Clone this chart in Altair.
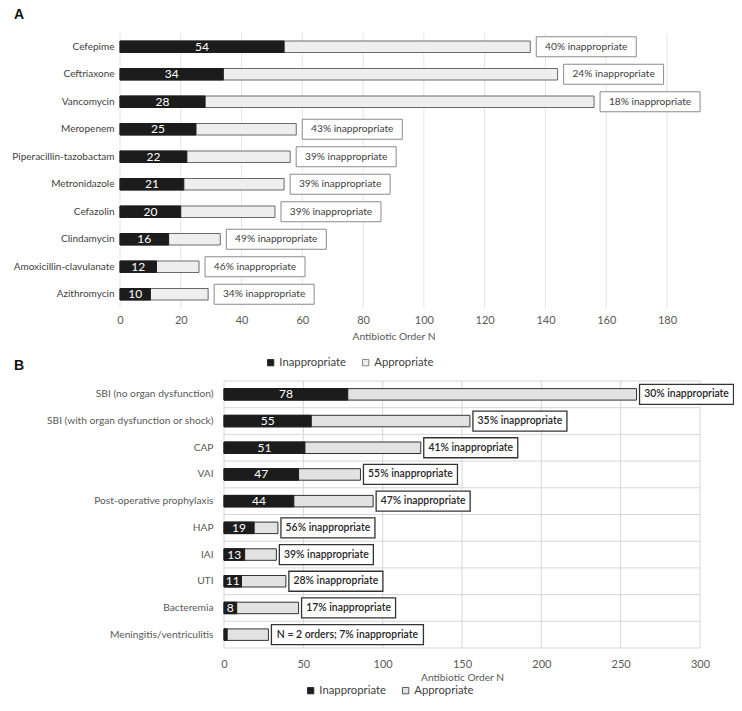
import altair as alt
import pandas as pd

FONT = "Lato"

# ---------------- Panel A data ----------------
cats_a = ["Cefepime", "Ceftriaxone", "Vancomycin", "Meropenem", "Piperacillin-tazobactam",
          "Metronidazole", "Cefazolin", "Clindamycin", "Amoxicillin-clavulanate", "Azithromycin"]
inapp_a = [54, 34, 28, 25, 22, 21, 20, 16, 12, 10]
app_a = [81, 110, 128, 33, 34, 33, 31, 17, 14, 19]
notes_a = ["40% inappropriate", "24% inappropriate", "18% inappropriate", "43% inappropriate",
           "39% inappropriate", "39% inappropriate", "39% inappropriate", "49% inappropriate",
           "46% inappropriate", "34% inappropriate"]
ticks_a = [0, 20, 40, 60, 80, 100, 120, 140, 160, 180]

# ---------------- Panel B data ----------------
cats_b = ["SBI (no organ dysfunction)", "SBI (with organ dysfunction or shock)", "CAP", "VAI",
          "Post-operative prophylaxis", "HAP", "IAI", "UTI", "Bacteremia", "Meningitis/ventriculitis"]
inapp_b = [78, 55, 51, 47, 44, 19, 13, 11, 8, 2]
app_b = [182, 100, 73, 39, 50, 15, 20, 28, 39, 26]
notes_b = ["30% inappropriate", "35% inappropriate", "41% inappropriate", "55% inappropriate",
           "47% inappropriate", "56% inappropriate", "39% inappropriate", "28% inappropriate",
           "17% inappropriate", "N = 2 orders; 7% inappropriate"]
ticks_b = [0, 50, 100, 150, 200, 250, 300]

status_domain = ["Inappropriate", "Appropriate"]
axis_title = "Antibiotic Order N"

W, H = 726, 690  # whole drawing (one canvas, both panels placed through their scale ranges)


def wide_df(cats, inapp, app, notes):
    return pd.DataFrame({
        "cat": cats,
        "inapp": inapp,
        "total": [i + a for i, a in zip(inapp, app)],
        "note": notes,
    })


def long_df(cats, inapp, app):
    rows = [{"cat": c, "status": "Appropriate", "value": i + a} for c, i, a in zip(cats, inapp, app)]
    rows += [{"cat": c, "status": "Inappropriate", "value": i} for c, i in zip(cats, inapp)]
    return pd.DataFrame(rows)


def panel(cats, inapp, app, notes, ticks, x_px, y_px, grid_color, ygrid,
          fill_gray, stroke_gray, box_stroke, box_sw, box_text_color, box_weight, box_fs,
          ylab_color, ylab_fs, ylab_pad, label_pad_x, title_pad_x, legend_x, legend_y,
          gap, box_w, long_w, letters):
    wdf = wide_df(cats, inapp, app, notes)
    ldf = long_df(cats, inapp, app)
    tdf = pd.DataFrame({"t": ticks})
    xscale = alt.Scale(domain=[ticks[0], ticks[-1]], range=x_px, nice=False, zero=True)
    yscale = alt.Scale(domain=cats, range=y_px, paddingInner=0, paddingOuter=0)

    xaxis = alt.Axis(orient="bottom", offset=y_px[1] - H, values=ticks, grid=False,
                     domain=False, ticks=False, labelPadding=label_pad_x, labelFlush=False,
                     labelOverlap=False,
                     labelFont=FONT, labelFontSize=11, labelColor="#595959",
                     title=axis_title, titleFont=FONT, titleFontSize=10.2,
                     titleFontWeight="normal", titleColor="#595959",
                     titlePadding=title_pad_x)
    yaxis = alt.Axis(orient="left", offset=-x_px[0], title=None, domain=False, ticks=False,
                     grid=False, labelPadding=ylab_pad, labelFont=FONT,
                     labelFontSize=ylab_fs, labelColor=ylab_color, labelLimit=400)

    layers = []
    # main bars (carry the axes and the legend)
    layers.append(alt.Chart(ldf).mark_bar(size=11.5, strokeWidth=1).encode(
        x=alt.X("value:Q", stack=None, scale=xscale, axis=xaxis),
        y=alt.Y("cat:N", scale=yscale, axis=yaxis),
        color=alt.Color("status:N",
                        scale=alt.Scale(domain=status_domain, range=["#1c1c1c", fill_gray]),
                        legend=alt.Legend(orient="none", legendX=legend_x, legendY=legend_y,
                                          direction="horizontal", title=None,
                                          symbolType="square", symbolSize=40,
                                          symbolStrokeColor="#555555", symbolStrokeWidth=0.8,
                                          labelFont=FONT, labelFontSize=11.3,
                                          labelColor="#404040", labelOffset=3,
                                          columnPadding=14, padding=0)),
        stroke=alt.Stroke("status:N",
                          scale=alt.Scale(domain=status_domain, range=["#1c1c1c", stroke_gray]),
                          legend=None),
    ))

    # grid lines at the tick values and (panel B) at the category band edges
    grid = [alt.Chart(tdf).mark_rule(color=grid_color, strokeWidth=1).encode(
        x=alt.X("t:Q", scale=xscale),
        y=alt.value(y_px[0]), y2=alt.value(y_px[1]),
    )]
    if ygrid:
        grid.append(alt.Chart(pd.DataFrame({"cat": cats})).mark_rule(
            color=grid_color, strokeWidth=1).encode(
            y=alt.Y("cat:N", scale=yscale, bandPosition=0),
            x=alt.value(x_px[0]), x2=alt.value(x_px[1]),
        ))
        grid.append(alt.Chart(pd.DataFrame({"a": [0]})).mark_rule(
            color=grid_color, strokeWidth=1).encode(
            y=alt.value(y_px[1]), x=alt.value(x_px[0]), x2=alt.value(x_px[1]),
        ))
    layers = grid + layers

    layers.append(alt.Chart(wdf).transform_filter("length(datum.note) < 20").mark_bar(
        size=20, fill="white", stroke=box_stroke, strokeWidth=box_sw,
        xOffset=gap, x2Offset=gap + box_w,
    ).encode(x=alt.X("total:Q", scale=xscale), x2="total:Q",
             y=alt.Y("cat:N", scale=yscale)))

    layers.append(alt.Chart(wdf).transform_filter("length(datum.note) >= 20").mark_bar(
        size=20, fill="white", stroke=box_stroke, strokeWidth=box_sw,
        xOffset=gap, x2Offset=gap + long_w,
    ).encode(x=alt.X("total:Q", scale=xscale), x2="total:Q",
             y=alt.Y("cat:N", scale=yscale)))

    layers.append(alt.Chart(wdf).transform_filter("length(datum.note) < 20").mark_text(
        font=FONT, fontSize=box_fs, color=box_text_color, fontWeight=box_weight,
        align="center", baseline="middle", dx=gap + box_w / 2,
    ).encode(x=alt.X("total:Q", scale=xscale),
             y=alt.Y("cat:N", scale=yscale), text="note:N"))

    layers.append(alt.Chart(wdf).transform_filter("length(datum.note) >= 20").mark_text(
        font=FONT, fontSize=box_fs, color=box_text_color, fontWeight=box_weight,
        align="center", baseline="middle", dx=gap + long_w / 2,
    ).encode(x=alt.X("total:Q", scale=xscale),
             y=alt.Y("cat:N", scale=yscale), text="note:N"))

    layers.append(alt.Chart(wdf).transform_filter("datum.inapp >= 5").transform_calculate(
        mid="datum.inapp / 2"
    ).mark_text(color="white", font=FONT, fontSize=12, baseline="middle").encode(
        x=alt.X("mid:Q", scale=xscale),
        y=alt.Y("cat:N", scale=yscale),
        text=alt.Text("inapp:Q"),
    ))

    for txt, lx, ly in letters:
        layers.append(alt.Chart(pd.DataFrame({"t": [txt]})).mark_text(
            font="Liberation Sans", fontWeight="bold", fontSize=14, color="#111111",
            align="left", baseline="middle",
        ).encode(text="t:N", x=alt.value(lx), y=alt.value(ly)))

    return alt.layer(*layers)


# pixel positions below are relative to the drawing's top-left corner (page x = 8, y = 8)
panel_a = panel(cats_a, inapp_a, app_a, notes_a, ticks_a, x_px=[112, 659], y_px=[25, 300],
                grid_color="#e4e4e4", ygrid=False, fill_gray="#eeeeee", stroke_gray="#6a6a6a",
                box_stroke="#8a8a8a", box_sw=1, box_text_color="#404040", box_weight="normal",
                box_fs=10.2, ylab_color="#404040", ylab_fs=10.0, ylab_pad=6,
                label_pad_x=6, title_pad_x=6, legend_x=257, legend_y=349, gap=6,
                box_w=100, long_w=150, letters=[("A", 6, 7), ("B", 6, 358)])

panel_b = panel(cats_b, inapp_b, app_b, notes_b, ticks_b, x_px=[216, 692], y_px=[373, 640],
                grid_color="#d6d6d6", ygrid=True, fill_gray="#e2e2e2", stroke_gray="#333333",
                box_stroke="#333333", box_sw=1.3, box_text_color="#262626", box_weight=600,
                box_fs=10.4, ylab_color="#595959", ylab_fs=10.2, ylab_pad=11,
                label_pad_x=10, title_pad_x=3, legend_x=297, legend_y=677, gap=3,
                box_w=94, long_w=152, letters=[])

chart = alt.layer(panel_a, panel_b).resolve_scale(
    x="independent", y="independent", color="independent", stroke="independent"
).properties(width=W, height=H, padding=0,
             autosize=alt.AutoSizeParams(type="none")).configure_view(strokeWidth=0)

chart.save("out.html", embed_options={"renderer": "svg", "actions": False})
